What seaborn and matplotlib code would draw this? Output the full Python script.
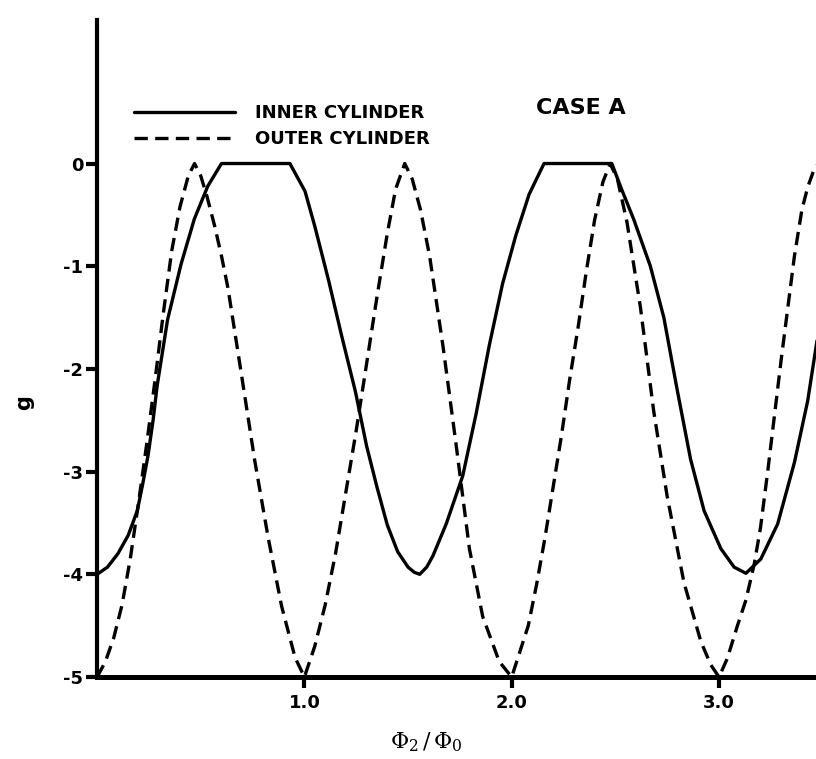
import numpy as np
import pandas as pd
import seaborn as sns
import matplotlib.pyplot as plt
from matplotlib.lines import Line2D

# values (x = Phi2/Phi0, g)
inner_x = [0.00, 0.05, 0.10, 0.15, 0.194, 0.22, 0.246, 0.27, 0.29, 0.34, 0.405,
           0.469, 0.534, 0.60, 0.93, 1.003, 1.05, 1.117, 1.18, 1.246, 1.30, 1.35,
           1.40, 1.45, 1.50, 1.53, 1.556, 1.59, 1.62, 1.684, 1.764, 1.828, 1.892,
           1.956, 2.02, 2.084, 2.156, 2.483, 2.53, 2.588, 2.669, 2.734, 2.798,
           2.863, 2.928, 3.009, 3.073, 3.13, 3.202, 3.283, 3.364, 3.428, 3.474]
inner_g = [-4.00, -3.93, -3.80, -3.62, -3.38, -3.12, -2.84, -2.50, -2.16, -1.52, -0.98,
           -0.54, -0.22, 0.00, 0.00, -0.27, -0.61, -1.14, -1.68, -2.22, -2.75, -3.15,
           -3.52, -3.78, -3.93, -3.98, -4.00, -3.93, -3.82, -3.51, -3.04, -2.44, -1.77,
           -1.17, -0.70, -0.30, 0.00, 0.00, -0.25, -0.54, -1.00, -1.50, -2.20,
           -2.88, -3.38, -3.75, -3.93, -3.99, -3.85, -3.51, -2.91, -2.31, -1.71]

outer_x = [0.00, 0.04, 0.08, 0.12, 0.16, 0.20, 0.24, 0.28, 0.32, 0.36, 0.40, 0.44,
           0.47, 0.50, 0.53, 0.566, 0.60, 0.631, 0.696, 0.761, 0.825, 0.89, 0.955,
           1.00, 1.05, 1.10, 1.15, 1.20, 1.25, 1.30, 1.35, 1.40, 1.44, 1.484, 1.52,
           1.56, 1.604, 1.668, 1.732, 1.796, 1.86, 1.94, 2.00, 2.04, 2.08, 2.12,
           2.16, 2.20, 2.24, 2.28, 2.32, 2.36, 2.40, 2.44, 2.475, 2.51, 2.556,
           2.621, 2.685, 2.75, 2.831, 2.912, 2.96, 3.00, 3.04, 3.089, 3.13, 3.17,
           3.20, 3.235, 3.30, 3.364, 3.40, 3.428, 3.46, 3.48]
outer_g = [-5.00, -4.85, -4.62, -4.30, -3.85, -3.30, -2.72, -2.10, -1.45, -0.85, -0.42, -0.12,
           0.00, -0.12, -0.32, -0.60, -0.90, -1.21, -2.05, -2.90, -3.64, -4.31, -4.81,
           -5.00, -4.70, -4.30, -3.80, -3.20, -2.60, -1.95, -1.30, -0.68, -0.25, 0.00, -0.15,
           -0.45, -0.90, -1.77, -2.74, -3.75, -4.41, -4.85, -5.00, -4.75, -4.50, -4.10,
           -3.65, -3.15, -2.65, -2.10, -1.60, -1.05, -0.55, -0.18, 0.00, -0.15, -0.57,
           -1.40, -2.41, -3.24, -4.08, -4.65, -4.88, -5.00, -4.82, -4.50, -4.25, -3.90,
           -3.55, -3.00, -1.91, -0.90, -0.45, -0.23, -0.05, 0.00]

x_ticks = [1.0, 2.0, 3.0]
x_tick_labels = ["1.0", "2.0", "3.0"]
y_ticks = [0, -1, -2, -3, -4, -5]
y_tick_labels = ["0", "-1", "-2", "-3", "-4", "-5"]

sns.set_style("ticks")
plt.rcParams["font.family"] = ["DejaVu Sans"]
plt.rcParams["axes.unicode_minus"] = False
plt.rcParams["text.color"] = "black"
plt.rcParams["axes.edgecolor"] = "black"
plt.rcParams["xtick.color"] = "black"
plt.rcParams["ytick.color"] = "black"

fig = plt.figure(figsize=(8.16, 7.59), dpi=100)
ax = fig.add_axes([0.119, 0.108, 0.881, 0.866])

df_inner = pd.DataFrame({"x": inner_x, "g": inner_g})
df_outer = pd.DataFrame({"x": outer_x, "g": outer_g})

sns.lineplot(data=df_inner, x="x", y="g", ax=ax, color="black", linewidth=2.4,
             estimator=None)
sns.lineplot(data=df_outer, x="x", y="g", ax=ax, color="black", linewidth=2.4,
             estimator=None)
ax.lines[-1].set_dashes((4, 2.2))

ax.set_xlim(0, 3.468)
ax.set_ylim(-5, 1.40)

ax.set_xticks(x_ticks)
ax.set_xticklabels(x_tick_labels)
ax.set_yticks(y_ticks)
ax.set_yticklabels(y_tick_labels)
ax.tick_params(axis="both", direction="out", length=8, width=3, labelsize=13,
               color="black", labelcolor="black")
ax.tick_params(axis="x", pad=4)
ax.tick_params(axis="y", pad=2)
for lab in ax.get_xticklabels() + ax.get_yticklabels():
    lab.set_fontweight("bold")

sns.despine(ax=ax, top=True, right=True)
ax.spines["left"].set_linewidth(3)
ax.spines["bottom"].set_linewidth(3.6)
ax.set_xlabel("")
ax.set_ylabel("")

# legend
handles = [Line2D([], [], color="black", linewidth=2.4),
           Line2D([], [], color="black", linewidth=2.4, dashes=(4, 2.2))]
leg = ax.legend(handles, ["INNER CYLINDER", "OUTER CYLINDER"], loc="upper left",
                bbox_to_anchor=(0.039, 0.885), frameon=False, borderpad=0,
                handlelength=5.6, handletextpad=1.1, labelspacing=0.45,
                prop={"weight": "bold", "size": 13})
for t in leg.get_texts():
    t.set_color("black")

ax.text(0.673, 0.865, "CASE A", transform=ax.transAxes, ha="center", va="center",
        fontsize=16, fontweight="bold", color="black")

fig.text(0.030, 0.470, "g", rotation=90, ha="center", va="center",
         fontsize=15, fontweight="bold", color="black")
fig.text(0.523, 0.022, r"$\Phi_2\,/\,\Phi_0$", ha="center", va="center",
         fontsize=16, math_fontfamily="dejavuserif", color="black")

fig.savefig("out.png", dpi=100)
